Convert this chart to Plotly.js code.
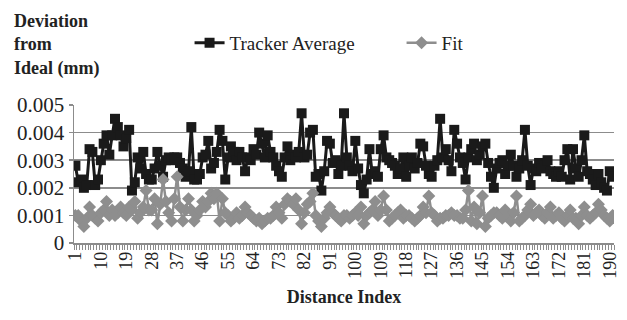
<!DOCTYPE html>
<html>
<head>
<meta charset="utf-8">
<script src="https://cdn.plot.ly/plotly-3.0.1.min.js"></script>
<style>html,body{margin:0;padding:0;background:#fff;}#chart{width:627px;height:320px;}</style>
</head>
<body>
<div id="chart"></div>
<script>
var trackerAverage = [
0.0028,0.0022,0.0023,0.0020,0.0021,0.0034,0.0033,0.0021,0.0023,0.0030,
0.0036,0.0039,0.0032,0.0039,0.0045,0.0042,0.0039,0.0035,0.0038,0.0041,
0.0019,0.0022,0.0031,0.0027,0.0033,0.0025,0.0023,0.0023,0.0027,0.0033,
0.0028,0.0024,0.0030,0.0031,0.0030,0.0031,0.0031,0.0029,0.0027,0.0024,
0.0026,0.0042,0.0023,0.0023,0.0025,0.0031,0.0032,0.0037,0.0027,0.0029,
0.0033,0.0041,0.0037,0.0023,0.0031,0.0035,0.0033,0.0030,0.0033,0.0031,
0.0026,0.0031,0.0030,0.0034,0.0032,0.0040,0.0036,0.0031,0.0039,0.0033,
0.0031,0.0028,0.0026,0.0024,0.0031,0.0035,0.0030,0.0032,0.0031,0.0033,
0.0047,0.0031,0.0032,0.0040,0.0041,0.0024,0.0025,0.0019,0.0026,0.0037,
0.0036,0.0029,0.0030,0.0025,0.0028,0.0047,0.0031,0.0028,0.0026,0.0037,
0.0027,0.0021,0.0018,0.0023,0.0034,0.0025,0.0026,0.0024,0.0034,0.0039,
0.0031,0.0030,0.0029,0.0028,0.0025,0.0027,0.0031,0.0024,0.0028,0.0031,
0.0027,0.0029,0.0036,0.0035,0.0028,0.0025,0.0024,0.0028,0.0030,0.0045,
0.0031,0.0034,0.0030,0.0026,0.0041,0.0036,0.0031,0.0029,0.0023,0.0031,
0.0034,0.0036,0.0030,0.0032,0.0035,0.0036,0.0029,0.0024,0.0020,0.0027,
0.0029,0.0030,0.0025,0.0028,0.0032,0.0028,0.0024,0.0027,0.0030,0.0041,
0.0028,0.0021,0.0027,0.0026,0.0029,0.0027,0.0028,0.0030,0.0026,0.0025,
0.0024,0.0026,0.0024,0.0030,0.0034,0.0023,0.0034,0.0027,0.0024,0.0030,
0.0039,0.0026,0.0025,0.0023,0.0021,0.0025,0.0022,0.0020,0.0019,0.0026,
0.0024
];
var fit = [
0.0010,0.0010,0.0008,0.0006,0.0009,0.0013,0.0010,0.0009,0.0008,0.0011,
0.0012,0.0015,0.0010,0.0012,0.0010,0.0011,0.0013,0.0011,0.0010,0.0013,
0.0012,0.0015,0.0009,0.0011,0.0013,0.0019,0.0012,0.0012,0.0016,0.0007,
0.0014,0.0023,0.0015,0.0011,0.0008,0.0016,0.0024,0.0013,0.0008,0.0012,
0.0016,0.0012,0.0008,0.0010,0.0012,0.0015,0.0013,0.0015,0.0018,0.0016,
0.0018,0.0008,0.0016,0.0011,0.0010,0.0008,0.0009,0.0011,0.0009,0.0010,
0.0013,0.0011,0.0010,0.0009,0.0008,0.0009,0.0007,0.0008,0.0009,0.0009,
0.0010,0.0013,0.0011,0.0009,0.0014,0.0016,0.0015,0.0014,0.0016,0.0012,
0.0007,0.0011,0.0014,0.0015,0.0018,0.0010,0.0008,0.0006,0.0009,0.0011,
0.0013,0.0011,0.0010,0.0009,0.0008,0.0010,0.0010,0.0009,0.0010,0.0011,
0.0010,0.0013,0.0007,0.0010,0.0011,0.0012,0.0015,0.0010,0.0012,0.0017,
0.0012,0.0008,0.0009,0.0010,0.0011,0.0012,0.0009,0.0010,0.0010,0.0009,
0.0008,0.0009,0.0010,0.0013,0.0011,0.0017,0.0011,0.0010,0.0008,0.0009,
0.0009,0.0010,0.0010,0.0011,0.0010,0.0010,0.0009,0.0009,0.0012,0.0019,
0.0008,0.0013,0.0007,0.0011,0.0017,0.0006,0.0009,0.0010,0.0011,0.0011,
0.0010,0.0009,0.0012,0.0010,0.0008,0.0011,0.0017,0.0008,0.0009,0.0010,
0.0012,0.0014,0.0010,0.0011,0.0012,0.0010,0.0009,0.0011,0.0013,0.0009,
0.0010,0.0011,0.0009,0.0008,0.0010,0.0012,0.0009,0.0009,0.0007,0.0010,
0.0013,0.0010,0.0009,0.0010,0.0011,0.0014,0.0012,0.0010,0.0009,0.0008,
0.0010
];
var distanceIndex = [];
for (var i = 1; i <= trackerAverage.length; i++) distanceIndex.push(i);
var xTickValues = [1,10,19,28,37,46,55,64,73,82,91,100,109,118,127,136,145,154,163,172,181,190];
var xTickLabels = ["1","10","19","28","37","46","55","64","73","82","91","100","109","118","127","136","145","154","163","172","181","190"];
var yTickValues = [0,0.001,0.002,0.003,0.004,0.005];
var yTickLabels = ["0","0.001","0.002","0.003","0.004","0.005"];

var FONT = "Liberation Serif, Times New Roman, serif";
var traces = [
  {x: distanceIndex, y: trackerAverage, type: 'scatter', mode: 'lines+markers', name: 'Tracker Average',
   line: {color: '#1a1a1a', width: 3}, marker: {symbol: 'square', size: 10, color: '#1a1a1a'}},
  {x: distanceIndex, y: fit, type: 'scatter', mode: 'lines+markers', name: 'Fit',
   line: {color: '#8e8e8e', width: 2.5}, marker: {symbol: 'diamond', size: 10, color: '#8e8e8e'}}
];
var layout = {
  width: 627, height: 320,
  margin: {l: 74, r: 13, t: 105, b: 77},
  paper_bgcolor: '#fff', plot_bgcolor: '#fff',
  font: {family: FONT, size: 18, color: '#222'},
  showlegend: true,
  legend: {orientation: 'h', x: 0.214, xanchor: 'left', y: 1.45, yanchor: 'middle',
           font: {family: FONT, size: 19, color: '#222'}, bgcolor: 'rgba(0,0,0,0)', entrywidth: 167, entrywidthmode: 'pixels'},
  xaxis: {
    range: [0.5, distanceIndex.length + 0.5],
    tickmode: 'array', tickvals: xTickValues, ticktext: xTickLabels,
    tickangle: -90, ticks: '', tickfont: {family: FONT, size: 18, color: '#222'},
    showgrid: false, zeroline: false, showline: true, linecolor: '#8c8c8c', linewidth: 1.5,
    minor: {tickmode: 'linear', tick0: 0.5, dtick: 1, ticks: 'outside', ticklen: 5, tickcolor: '#8c8c8c', tickwidth: 1, showgrid: false},
    title: {text: '<b>Distance Index</b>', font: {family: FONT, size: 18, color: '#222'}, standoff: 12},
    fixedrange: true
  },
  yaxis: {
    range: [0, 0.005], tickmode: 'array', tickvals: yTickValues, ticktext: yTickLabels,
    ticks: 'outside', ticklen: 4, tickcolor: '#8c8c8c', tickwidth: 1.5,
    tickfont: {family: FONT, size: 21, color: '#222'},
    showgrid: true, gridcolor: '#8c8c8c', gridwidth: 1.5,
    zeroline: false, showline: true, linecolor: '#8c8c8c', linewidth: 1.5,
    fixedrange: true
  },
  annotations: [{
    text: '<b>Deviation<br>from<br>Ideal (mm)</b>', xref: 'paper', yref: 'paper', x: 0, y: 1,
    xanchor: 'left', yanchor: 'top', xshift: -62, yshift: 96, align: 'left', showarrow: false,
    font: {family: FONT, size: 18, color: '#222'}
  }]
};
Plotly.newPlot('chart', traces, layout, {displayModeBar: false, staticPlot: true});
</script>
</body>
</html>
